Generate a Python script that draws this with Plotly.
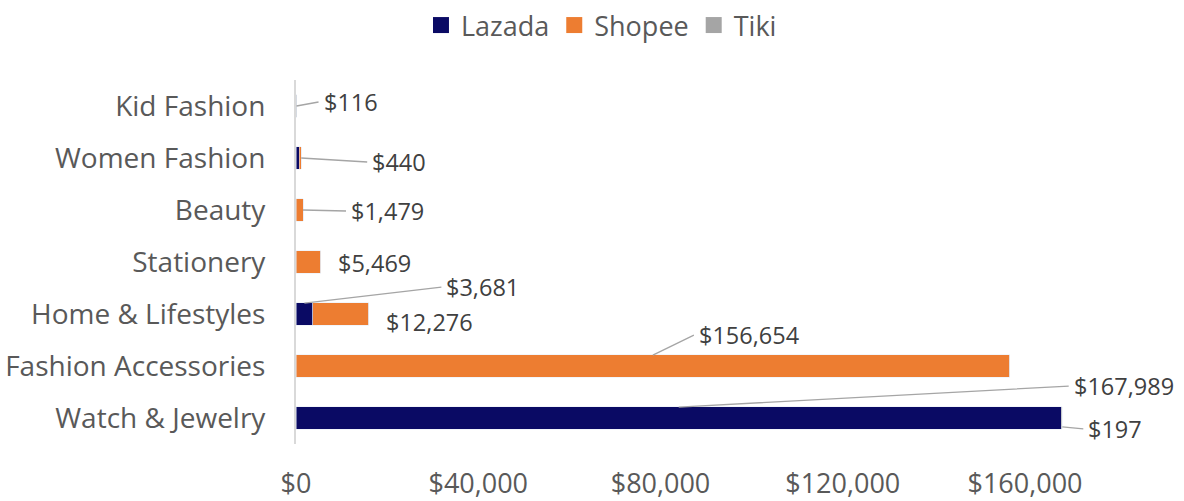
import plotly.graph_objects as go

categories = ["Watch & Jewelry", "Fashion Accessories", "Home & Lifestyles",
              "Stationery", "Beauty", "Women Fashion", "Kid Fashion"]
lazada = [167989, 0, 3681, 0, 60, 700, 0]
shopee = [0, 156654, 12276, 5469, 1479, 440, 0]
tiki = [197, 0, 0, 0, 0, 0, 116]
x_ticks = [0, 40000, 80000, 120000, 160000]
x_tick_text = [f"${v:,}" for v in x_ticks]

FONT = "Open Sans, sans-serif"
C_LAZ, C_SHO, C_TIK = "#0A0A64", "#ED7D31", "#A5A5A5"

fig = go.Figure()
for name, vals, col in [("Lazada", lazada, C_LAZ), ("Shopee", shopee, C_SHO), ("Tiki", tiki, C_TIK)]:
    fig.add_trace(go.Bar(y=categories, x=vals, name=name, orientation="h",
                         marker_color=col, showlegend=False, legendgroup=name))
    # legend entry with a larger square swatch
    fig.add_trace(go.Scatter(x=[None], y=[None], mode="markers", name=name, legendgroup=name,
                             marker=dict(symbol="square", size=16, color=col), showlegend=True))

# label styles: (category index, series, anchor mode, head y shift, text pixel offset x, y, leader line)
label_style = [
    (6, "tiki", "end", 0.0, 22, -4, True),
    (5, "shopee", "end", 0.0, 66, 4, True),
    (4, "shopee", "end", 0.0, 43, 1, True),
    (3, "shopee", "end", 0.0, 15, 1, False),
    (2, "lazada", "mid", 0.21, 137, -16, True),
    (2, "shopee", "end", 0.0, 15, 8, False),
    (1, "shopee", "mid", 0.21, 41, -20, True),
    (0, "lazada", "mid", 0.21, 390, -21, True),
    (0, "tiki", "end", -0.17, 21, 2, True),
]
series = {"lazada": lazada, "shopee": shopee, "tiki": tiki}
order = ["lazada", "shopee", "tiki"]
LBL_FONT = dict(family=FONT, size=23.5, color="#404040")

for ci, s, mode, dy, ox, oy, arrow in label_style:
    base = sum(series[o][ci] for o in order[:order.index(s)])
    val = series[s][ci]
    hx = base + val if mode == "end" else base + val / 2
    hy = ci + dy
    txt = f"${val:,}"
    if arrow:
        fig.add_annotation(x=hx, y=hy, xref="x", yref="y", text=txt, showarrow=True,
                           arrowhead=0, arrowwidth=1.3, arrowcolor="#A5A5A5",
                           ax=ox, ay=oy, axref="pixel", ayref="pixel",
                           xanchor="left", yanchor="middle", borderpad=4, font=LBL_FONT)
    else:
        fig.add_annotation(x=hx, y=hy, xref="x", yref="y", text=txt, showarrow=False,
                           xanchor="left", yanchor="middle", xshift=ox, yshift=-oy,
                           font=LBL_FONT)

fig.update_layout(
    width=1184, height=501,
    margin=dict(l=296, r=0, t=80, b=57),
    barmode="stack", bargap=0.56,
    plot_bgcolor="white", paper_bgcolor="white",
    font=dict(family=FONT, size=27, color="#595959"),
    legend=dict(orientation="h", x=0.508, xanchor="center", xref="container",
                y=0.998, yanchor="top", yref="container",
                font=dict(size=27, color="#595959"), traceorder="normal",
                itemwidth=30, itemsizing="trace"),
    showlegend=True,
)
fig.update_xaxes(range=[0, 194897], tickvals=x_ticks, ticktext=x_tick_text,
                 showgrid=False, zeroline=False, showline=False, automargin=False,
                 ticklabelstandoff=21, tickfont=dict(size=27, color="#595959"))
fig.update_yaxes(showgrid=False, showline=True, linecolor="#D9D9D9", linewidth=2,
                 ticks="", ticklabelstandoff=23, tickfont=dict(size=28, color="#595959"),
                 range=[-0.5, 6.5], automargin=False)

fig.write_html("out.html")
